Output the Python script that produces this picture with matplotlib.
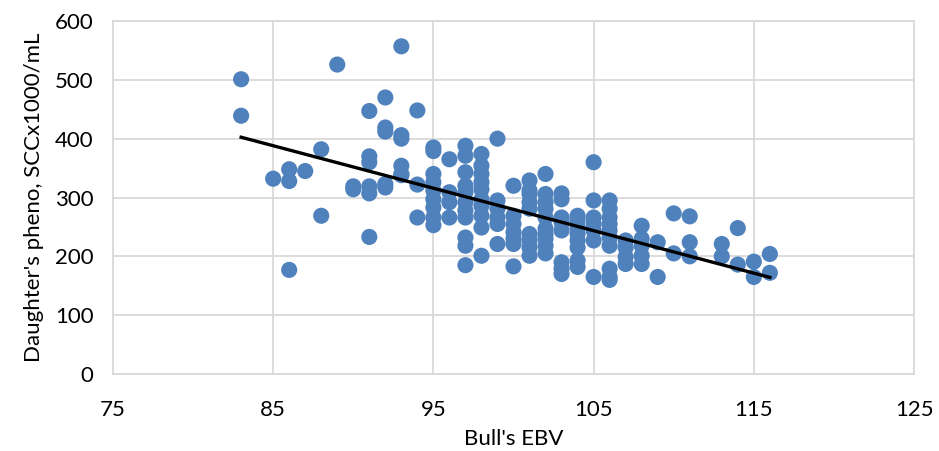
import numpy as np
import matplotlib
matplotlib.use('Agg')
import matplotlib.pyplot as plt

plt.rcParams['font.family'] = ['Lato', 'DejaVu Sans']

# bull EBV (x) and daughter's phenotype SCC (y)
ebv = [83, 83,
       85,
       86, 86, 86,
       87,
       88, 88,
       89,
       90, 90,
       91, 91, 91, 91, 91, 91,
       92, 92, 92, 92, 92,
       93, 93, 93, 93, 93, 93,
       94, 94, 94,
       95, 95, 95, 95, 95, 95, 95, 95, 95,
       96, 96, 96, 96,
       97, 97, 97, 97, 97, 97, 97, 97, 97, 97, 97,
       98, 98, 98, 98, 98, 98, 98, 98, 98, 98,
       99, 99, 99, 99, 99, 99,
       100, 100, 100, 100, 100, 100, 100,
       101, 101, 101, 101, 101, 101, 101, 101, 101,
       102, 102, 102, 102, 102, 102, 102, 102, 102, 102,
       103, 103, 103, 103, 103, 103, 103, 103,
       104, 104, 104, 104, 104, 104, 104, 104,
       105, 105, 105, 105, 105, 105, 105,
       106, 106, 106, 106, 106, 106, 106, 106, 106, 106,
       107, 107, 107, 107,
       108, 108, 108, 108, 108,
       109, 109,
       110, 110,
       111, 111, 111,
       113, 113,
       114, 114,
       115, 115,
       116, 116]
scc = [501, 439,
       332,
       348, 328, 177,
       345,
       382, 269,
       526,
       319, 314,
       447, 370, 360, 319, 307, 233,
       470, 419, 412, 323, 317,
       557, 406, 400, 354, 340, 338,
       448, 322, 266,
       385, 379, 340, 326, 312, 297, 283, 266, 253,
       365, 309, 292, 266,
       388, 371, 343, 320, 309, 292, 278, 266, 232, 218, 185,
       374, 354, 340, 326, 314, 297, 286, 269, 249, 201,
       400, 295, 281, 266, 255, 221,
       320, 269, 255, 241, 230, 221, 183,
       329, 312, 306, 292, 281, 238, 227, 215, 201,
       340, 306, 292, 281, 266, 247, 238, 230, 218, 205,
       307, 297, 266, 258, 244, 190, 179, 170,
       269, 261, 249, 238, 227, 215, 193, 182,
       360, 295, 266, 255, 244, 227, 165,
       295, 281, 266, 255, 244, 232, 218, 179, 165, 160,
       227, 215, 199, 187,
       252, 230, 218, 201, 187,
       224, 165,
       273, 205,
       268, 224, 200,
       221, 200,
       248, 186,
       191, 165,
       204, 172]

x = np.array(ebv, dtype=float)
y = np.array(scc, dtype=float)

# linear trendline
slope, intercept = np.polyfit(x, y, 1)
xt = np.array([x.min(), x.max()])
yt = slope * xt + intercept

fig = plt.figure(figsize=(9.39, 4.51), dpi=100)
ax = fig.add_axes([0.1203, 0.1707, 0.8531, 0.7827])

ax.scatter(x, y, s=135, color='#4F81BD', edgecolors='none', zorder=3)
ax.plot(xt, yt, color='black', linewidth=2.4, zorder=4)

ax.set_xlim(75, 125)
ax.set_ylim(0, 600)
ax.set_xticks(np.arange(75, 126, 10))
ax.set_yticks(np.arange(0, 601, 100))
ax.grid(True, color='#d9d9d9', linewidth=1.3)
ax.set_axisbelow(True)
for s in ax.spines.values():
    s.set_color('#d9d9d9')
    s.set_linewidth(1.3)
ax.tick_params(axis='both', length=0, labelsize=16, colors='black')
ax.tick_params(axis='x', pad=19)
ax.tick_params(axis='y', pad=14)

ax.set_xlabel("Bull's EBV", fontsize=16, labelpad=6)
ax.set_ylabel("Daughter's pheno, SCCx1000/mL", fontsize=16, labelpad=8)

fig.savefig('out.png', dpi=100)
